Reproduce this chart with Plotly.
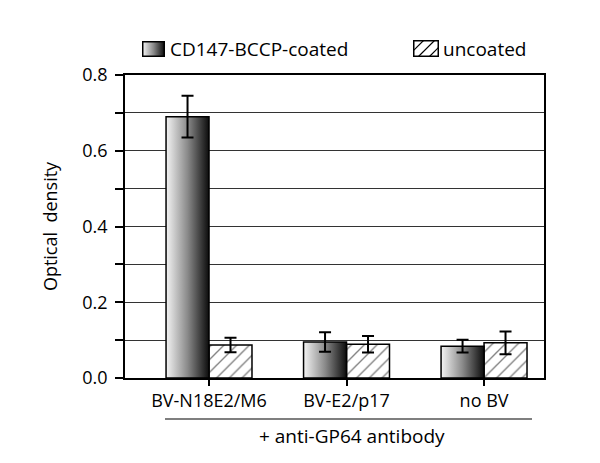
import base64
import plotly.graph_objects as go

# ---------------- data ----------------
categories = ["BV-N18E2/M6", "BV-E2/p17", "no BV"]
coated_values = [0.690, 0.095, 0.084]
coated_errors = [0.055, 0.026, 0.017]
uncoated_values = [0.087, 0.089, 0.093]
uncoated_errors = [0.019, 0.022, 0.030]
series_names = ["CD147-BCCP-coated", "uncoated"]
y_tick_values = [0.0, 0.1, 0.2, 0.3, 0.4, 0.5, 0.6, 0.7, 0.8]
y_tick_labels = ["0.0", "", "0.2", "", "0.4", "", "0.6", "", "0.8"]
group_note = "+ anti-GP64 antibody"
y_title = "Optical&nbsp;&nbsp;density"

# ---------------- styling ----------------
FONT = "Open Sans"
BAR_W = 0.3125
positions = list(range(len(categories)))
GRAD = [[0, "#f4f4f4"], [0.5, "#8a8a8a"], [1, "#0c0c0c"]]

# page body has an 8px margin; compensate so the plot lands where the reference has it
OFF = 8

fig = go.Figure()

# hatched (uncoated) bars: right half of each group
fig.add_trace(go.Bar(
    x=positions, y=uncoated_values, width=BAR_W, offset=0,
    name=series_names[1], showlegend=False,
    marker=dict(color="white",
                line=dict(color="black", width=1.5),
                pattern=dict(shape="/", fgcolor="black", bgcolor="white",
                             size=9, solidity=0.15)),
    error_y=dict(type="data", array=uncoated_errors, color="black",
                 thickness=2, width=6),
))

# gradient (coated) bars: left half of each group, built from the data
for p, v in zip(positions, coated_values):
    x0, x1 = p - BAR_W, p
    fig.add_trace(go.Scatter(
        x=[x0, x0, x1, x1, x0], y=[0, v, v, 0, 0],
        mode="lines", fill="toself",
        line=dict(color="black", width=1.5),
        fillgradient=dict(type="horizontal", colorscale=GRAD),
        showlegend=False, hoverinfo="skip", name=series_names[0],
    ))

# error bars of coated series
fig.add_trace(go.Scatter(
    x=[p - BAR_W / 2 for p in positions], y=coated_values,
    mode="markers", marker=dict(size=1, opacity=0),
    error_y=dict(type="data", array=coated_errors, color="black",
                 thickness=2, width=6),
    showlegend=False, name=series_names[0],
))

# ---------------- legend swatches (svg images) ----------------
grad_svg = (
    "<svg xmlns='http://www.w3.org/2000/svg' width='23' height='16' viewBox='0 0 23 16' preserveAspectRatio='none'>"
    "<defs><linearGradient id='g' x1='0' x2='1' y1='0' y2='0'>"
    "<stop offset='0' stop-color='#f4f4f4'/><stop offset='0.5' stop-color='#8a8a8a'/>"
    "<stop offset='1' stop-color='#0c0c0c'/></linearGradient></defs>"
    "<rect x='0.75' y='0.75' width='21.5' height='14.5' fill='url(#g)' stroke='black' stroke-width='1.5'/></svg>"
)
hatch_svg = (
    "<svg xmlns='http://www.w3.org/2000/svg' width='26' height='17' viewBox='0 0 26 17' preserveAspectRatio='none'>"
    "<defs><clipPath id='c'><rect x='0' y='0' width='26' height='17'/></clipPath></defs>"
    "<rect x='0.75' y='0.75' width='24.5' height='15.5' fill='white' stroke='none'/>"
    "<g clip-path='url(#c)' stroke='black' stroke-width='1.2'>"
    "<line x1='-6' y1='17' x2='11' y2='0'/><line x1='5' y1='17' x2='22' y2='0'/>"
    "<line x1='16' y1='17' x2='33' y2='0'/></g>"
    "<rect x='0.75' y='0.75' width='24.5' height='15.5' fill='none' stroke='black' stroke-width='1.5'/></svg>"
)


def uri(s):
    return "data:image/svg+xml;base64," + base64.b64encode(s.encode()).decode()


# target screen coordinates of the plot area
PL, PR, PT, PB = 125, 544, 75, 378
W, H = PR - PL, PB - PT


def px(x):
    return (x - PL) / W


def py(y):
    return (PB - y) / H


fig.add_layout_image(dict(source=uri(grad_svg), xref="paper", yref="paper",
                          x=px(142), y=py(41), sizex=23 / W, sizey=16 / H,
                          xanchor="left", yanchor="top", sizing="stretch", layer="above"))
fig.add_layout_image(dict(source=uri(hatch_svg), xref="paper", yref="paper",
                          x=px(413), y=py(40), sizex=26 / W, sizey=17 / H,
                          xanchor="left", yanchor="top", sizing="stretch", layer="above"))

fig.add_annotation(text=series_names[0], xref="paper", yref="paper",
                   x=px(168), y=py(49), xanchor="left", yanchor="middle",
                   showarrow=False, font=dict(family=FONT, size=19, color="black"))
fig.add_annotation(text=series_names[1], xref="paper", yref="paper",
                   x=px(441), y=py(49), xanchor="left", yanchor="middle",
                   showarrow=False, font=dict(family=FONT, size=19, color="black"))

# group bracket line and note
fig.add_shape(type="line", xref="paper", yref="paper",
              x0=px(165), x1=px(532), y0=py(419), y1=py(419),
              line=dict(color="black", width=1.2))
fig.add_annotation(text=group_note, xref="paper", yref="paper",
                   x=px(352), y=py(436), xanchor="center", yanchor="middle",
                   showarrow=False, font=dict(family=FONT, size=19, color="black"))

fig.update_layout(
    width=600, height=463,
    margin=dict(l=PL - OFF, r=600 - PR + OFF, t=PT - OFF, b=463 - PB + OFF),
    paper_bgcolor="white", plot_bgcolor="white",
    font=dict(family=FONT, size=17, color="black"),
    showlegend=False,
    xaxis=dict(range=[-0.611, 2.436], tickvals=positions, ticktext=categories,
               ticks="outside", ticklen=6, tickwidth=1.5, tickcolor="black",
               showline=True, linecolor="black", linewidth=1.5, mirror=True,
               showgrid=False, zeroline=False,
               tickfont=dict(family=FONT, size=18, color="black")),
    yaxis=dict(range=[0, 0.8], tickvals=y_tick_values, ticktext=y_tick_labels,
               ticks="outside", ticklen=8, tickwidth=1.5, tickcolor="black",
               ticklabelstandoff=4,
               showline=True, linecolor="black", linewidth=1.5, mirror=True,
               showgrid=True, gridcolor="#333333", gridwidth=1, zeroline=False,
               tickfont=dict(family=FONT, size=18, color="black"),
               title=dict(text=y_title, standoff=20,
                          font=dict(family=FONT, size=18, color="black"))),
)

fig.write_html("out.html")
